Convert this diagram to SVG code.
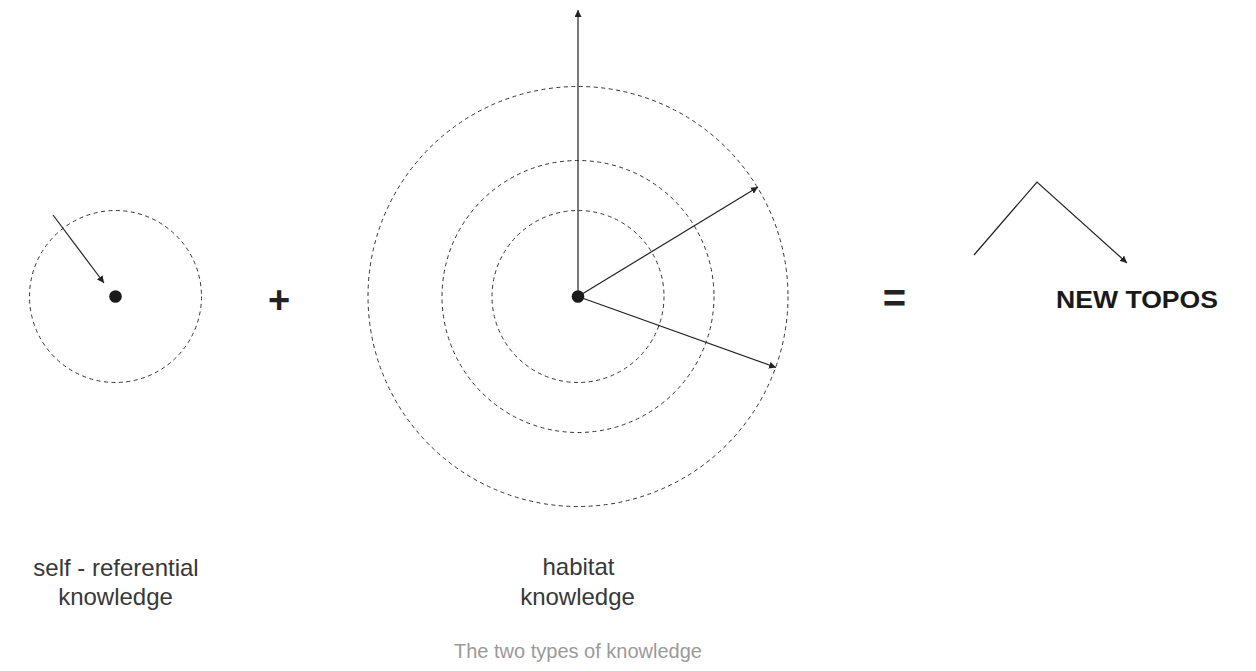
<svg xmlns="http://www.w3.org/2000/svg" width="1256" height="671" viewBox="0 0 1256 671">
<style>
.dash{fill:none;stroke:#333;stroke-width:1;stroke-dasharray:4 3.5}
.ln{fill:none;stroke:#222;stroke-width:1.2}
.dot{fill:#1a1a1a}
.lbl{font-family:"Liberation Sans",Arial,sans-serif;font-size:24px;fill:#383838;text-anchor:middle}
.op{font-family:"Liberation Sans",Arial,sans-serif;font-weight:bold;fill:#222;text-anchor:middle}
.cap{font-family:"Liberation Sans",Arial,sans-serif;font-size:20px;fill:#9a9a9a;text-anchor:middle}
</style>
<defs>
<marker id="ah" viewBox="0 0 10 10" refX="10" refY="5" markerWidth="7" markerHeight="7" markerUnits="userSpaceOnUse" orient="auto">
<path d="M0,0 L10,5 L0,10 z" fill="#222"/>
</marker>
</defs>
<rect width="1256" height="671" fill="#fff"/>
<g id="self">
<circle class="dash" cx="115.5" cy="296.5" r="86"/>
<circle class="dot" cx="115.5" cy="296.5" r="6.3"/>
</g>
<g id="habitat">
<circle class="dash" cx="578" cy="296.5" r="86"/>
<circle class="dash" cx="578" cy="296.5" r="136"/>
<circle class="dash" cx="578" cy="296.5" r="210"/>
<circle class="dot" cx="578" cy="296.5" r="6.3"/>
</g>
<g id="topos">
<polyline class="ln" points="974,255 1037,182 1127,263" marker-end="url(#ah)"/>
</g>
<g id="connectors">
<line class="ln" x1="53" y1="215" x2="104" y2="283" marker-end="url(#ah)"/>
<line class="ln" x1="578" y1="296.5" x2="578" y2="10" marker-end="url(#ah)"/>
<line class="ln" x1="578" y1="296.5" x2="758" y2="187" marker-end="url(#ah)"/>
<line class="ln" x1="578" y1="296.5" x2="776" y2="367.5" marker-end="url(#ah)"/>
</g>
<g id="operators">
<text class="op" x="279" y="312.5" font-size="38">+</text>
<text class="op" x="894.5" y="312" font-size="40">=</text>
</g>
<g id="labels">
<text class="lbl" x="116" y="576">self - referential</text>
<text class="lbl" x="115.5" y="605">knowledge</text>
<text class="lbl" x="578.5" y="575">habitat</text>
<text class="lbl" x="577.5" y="605">knowledge</text>
<text x="1137" y="308" font-family="'Liberation Sans',Arial,sans-serif" font-weight="bold" font-size="23" fill="#1a1a1a" text-anchor="middle" textLength="162" lengthAdjust="spacingAndGlyphs">NEW TOPOS</text>
<text class="cap" x="578" y="658">The two types of knowledge</text>
</g>
</svg>
